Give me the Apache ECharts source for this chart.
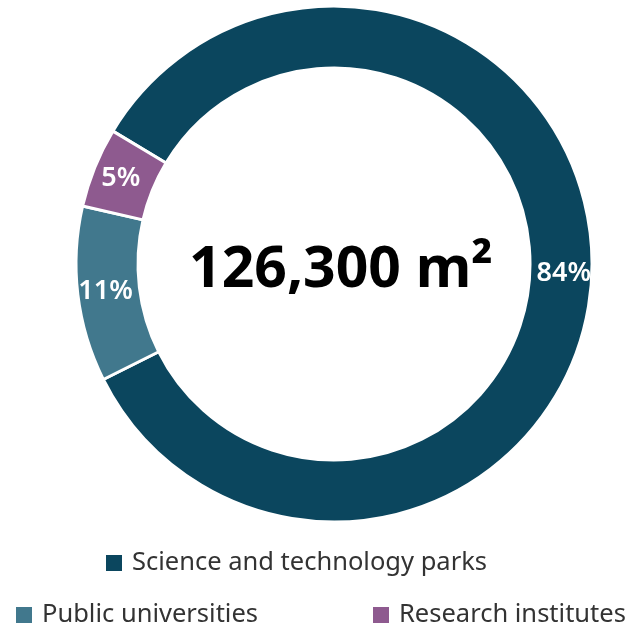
<!DOCTYPE html>
<html>
<head>
<meta charset="utf-8">
<script src="https://cdn.jsdelivr.net/npm/echarts@6/dist/echarts.min.js"></script>
<style>
  html, body { margin: 0; padding: 0; background: #fff; }
  #chart { width: 643px; height: 627px; }
</style>
</head>
<body>
<div id="chart"></div>
<script>
// Floor-area shares by type of facility
const categories = ['Science and technology parks', 'Public universities', 'Research institutes'];
const shares = [84, 11, 5];
const colors = ['#0b465e', '#41788d', '#8e5a8f'];
const totalLabel = '126,300 m²';

const FONT = '"Noto Sans", sans-serif';

const chart = echarts.init(document.getElementById('chart'), null, { renderer: 'canvas' });

const legendBase = {
  icon: 'rect',
  itemWidth: 18,
  itemHeight: 18,
  itemGap: 12,
  padding: 0,
  textStyle: { fontFamily: FONT, fontSize: 25.5, color: '#333333', padding: [0, 0, 0, 4] },
  selectedMode: false
};

chart.setOption({
  animation: false,
  color: colors,
  title: {
    text: totalLabel,
    left: 336,
    top: 266,
    textAlign: 'center',
    textVerticalAlign: 'middle',
    textStyle: { fontFamily: FONT, fontSize: 57, fontWeight: 'bold', color: '#000' }
  },
  legend: [
    Object.assign({}, legendBase, { data: [categories[0]], left: 104, top: 550 }),
    Object.assign({}, legendBase, { data: [categories[1]], left: 14, top: 602 }),
    Object.assign({}, legendBase, { data: [categories[2]], left: 371, top: 602 })
  ],
  series: [{
    type: 'pie',
    center: [334, 264],
    radius: [196, 258],
    startAngle: 149,
    clockwise: true,
    silent: true,
    itemStyle: { borderColor: '#fff', borderWidth: 3 },
    label: {
      show: true,
      position: 'inside',
      formatter: '{c}%',
      color: '#fff',
      fontFamily: FONT,
      fontSize: 27,
      fontWeight: 600
    },
    labelLine: { show: false },
    data: categories.map((name, i) => ({ name, value: shares[i] }))
  }]
});
</script>
</body>
</html>
